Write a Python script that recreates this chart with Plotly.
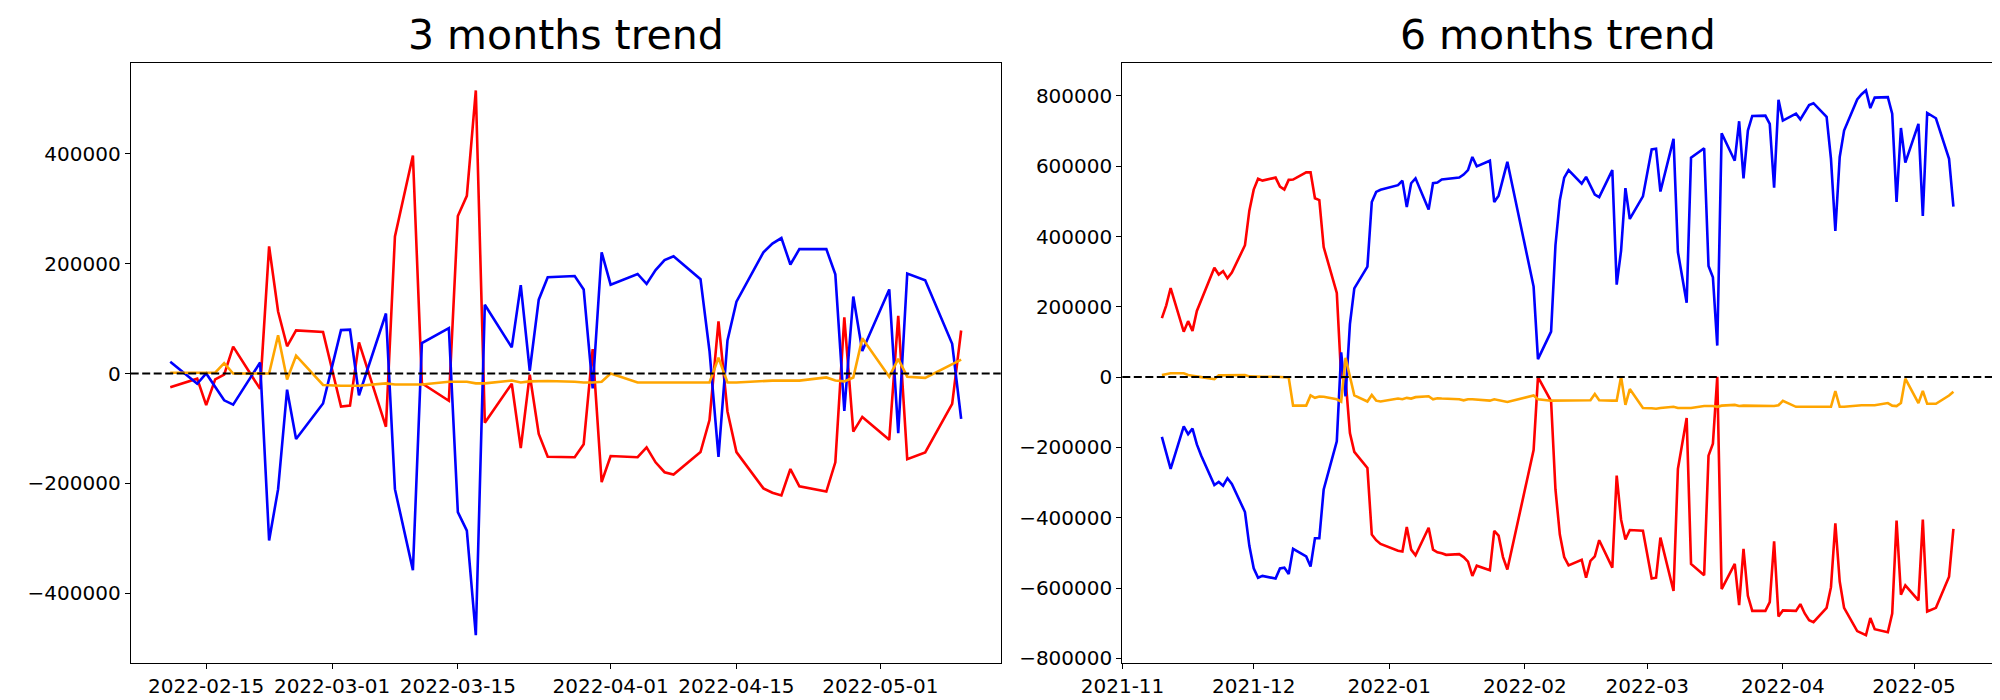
import plotly.graph_objects as go

# ---------------- 3 months data ----------------
left_dates = ["2022-02-11","2022-02-14","2022-02-15","2022-02-16","2022-02-17","2022-02-18",
              "2022-02-21","2022-02-22","2022-02-23","2022-02-24","2022-02-25","2022-02-28",
              "2022-03-02","2022-03-03","2022-03-04","2022-03-07","2022-03-08","2022-03-10",
              "2022-03-11","2022-03-14","2022-03-15","2022-03-16","2022-03-17","2022-03-18",
              "2022-03-21","2022-03-22","2022-03-23","2022-03-24","2022-03-25","2022-03-28",
              "2022-03-29","2022-03-30","2022-03-31","2022-04-01","2022-04-04","2022-04-05",
              "2022-04-06","2022-04-07","2022-04-08","2022-04-11","2022-04-12","2022-04-13",
              "2022-04-14","2022-04-15","2022-04-18","2022-04-19","2022-04-20","2022-04-21",
              "2022-04-22","2022-04-25","2022-04-26","2022-04-27","2022-04-28","2022-04-29",
              "2022-05-02","2022-05-03","2022-05-04","2022-05-06","2022-05-09","2022-05-10"]

left_red = [-25200, -9400, -57600, -10800, -2000, 48900, -28100, 231600, 112900, 49600,
            78400, 75500, -60400, -58300, 56800, -97100, 249600, 397100, -18000, -49600,
            287000, 323700, 515800, -89900, -18700, -136000, -2000, -110000, -151800, -152500,
            -128800, 44600, -197800, -150400, -152500, -134500, -161900, -179900, -184200, -143200,
            -84900, 95000, -69100, -143200, -209300, -217300, -222300, -174100, -205700, -215100,
            -161900, 102200, -105800, -79100, -120900, 105000, -156100, -143900, -55400, 78400]

left_blue = [21600, -18700, 0, -24000, -48900, -56800, 20100, -304300, -210800, -29500,
             -119400, -54700, 79100, 79900, -39600, 109300, -210800, -358300, 55400, 82700,
             -252500, -286300, -477000, 125200, 47500, 161100, 5000, 134500, 175500, 177700,
             153200, -27300, 220900, 161900, 181300, 163300, 188500, 206500, 213700, 171900,
             41000, -151800, 60400, 130900, 220900, 236700, 246800, 198600, 226600, 226600,
             180600, -68300, 140300, 41000, 153200, -108600, 182000, 169800, 54000, -82700]

left_orange = [1400, 1400, 1400, 1400, 18700, 0, 0, 0, 69800, -10800,
               32400, -20900, -22300, -22300, -22300, -18000, -20100, -20100, -20100, -15100,
               -15100, -15100, -18000, -18000, -12900, -16500, -14400, -13700, -13700, -15100,
               -16500, -16500, -15100, 0, -16500, -16500, -16500, -16500, -16500, -16500,
               -16500, 28800, -16500, -16500, -12900, -12900, -12900, -12900, -12900, -7200,
               -12900, -14400, -7200, 64000, -5800, 26600, -5800, -7900, 16500, 25200]

# ---------------- 6 months data ----------------
right_dates = ["2021-11-10","2021-11-11","2021-11-12","2021-11-15","2021-11-16","2021-11-17",
               "2021-11-18","2021-11-19","2021-11-22","2021-11-23","2021-11-24","2021-11-25",
               "2021-11-26","2021-11-29","2021-11-30","2021-12-01","2021-12-02","2021-12-03",
               "2021-12-06","2021-12-07","2021-12-08","2021-12-09","2021-12-10","2021-12-13",
               "2021-12-14","2021-12-15","2021-12-16","2021-12-17","2021-12-20","2021-12-21",
               "2021-12-22","2021-12-23","2021-12-24","2021-12-27","2021-12-28","2021-12-29",
               "2021-12-30","2022-01-03","2022-01-04","2022-01-05","2022-01-06","2022-01-07",
               "2022-01-10","2022-01-11","2022-01-12","2022-01-13","2022-01-14","2022-01-17",
               "2022-01-18","2022-01-19","2022-01-20","2022-01-21","2022-01-24","2022-01-25",
               "2022-01-26","2022-01-27","2022-01-28","2022-02-03","2022-02-04","2022-02-07",
               "2022-02-08","2022-02-09","2022-02-10","2022-02-11","2022-02-14","2022-02-15",
               "2022-02-16","2022-02-17","2022-02-18","2022-02-21","2022-02-22","2022-02-23",
               "2022-02-24","2022-02-25","2022-02-28","2022-03-02","2022-03-03","2022-03-04",
               "2022-03-07","2022-03-08","2022-03-10","2022-03-11","2022-03-14","2022-03-15",
               "2022-03-16","2022-03-17","2022-03-18","2022-03-21","2022-03-22","2022-03-23",
               "2022-03-24","2022-03-25","2022-03-28","2022-03-29","2022-03-30","2022-03-31",
               "2022-04-01","2022-04-04","2022-04-05","2022-04-06","2022-04-07","2022-04-08",
               "2022-04-11","2022-04-12","2022-04-13","2022-04-14","2022-04-15","2022-04-18",
               "2022-04-19","2022-04-20","2022-04-21","2022-04-22","2022-04-25","2022-04-26",
               "2022-04-27","2022-04-28","2022-04-29","2022-05-02","2022-05-03","2022-05-04",
               "2022-05-06","2022-05-09","2022-05-10"]

right_red = [167800, 204200, 253400, 129300, 159300, 131500, 188100, 218000, 311000, 291800,
             301500, 281100, 297200, 375200, 473600, 533400, 564400, 559100, 567600, 542000,
             533400, 561200, 562000, 582600, 582600, 508800, 503500, 369900, 239500, 0,
             -5000, -159300, -212700, -258700, -447900, -464000, -474600, -494000, -496000, -426500,
             -490700, -506700, -428700, -490700, -498200, -501000, -505600, -503500, -512000, -524900,
             -565500, -536600, -549500, -437200, -451100, -512000, -547300, -207400, 0, -68400,
             -319600, -448000, -512000, -535600, -519500, -570800, -522700, -510000, -464000, -542000,
             -280000, -405000, -461800, -435000, -437200, -573000, -570800, -456500, -608300, -260800,
             -116500, -531300, -563400, -223400, -189200, 1000, -603000, -531300, -648900, -488500,
             -622200, -665000, -665000, -640300, -467200, -681000, -663800, -665000, -645700, -672400,
             -691700, -697000, -656400, -597600, -415800, -581500, -656400, -722600, -729000, -734400,
             -685200, -717300, -725900, -672400, -408400, -619000, -592200, -635000, -405200, -667000,
             -656400, -567600, -431900]

right_blue = [-170000, -212700, -260800, -140000, -162500, -146500, -191400, -223500, -306800, -298300,
              -309000, -287600, -303600, -383800, -480000, -544100, -570800, -565500, -573000, -544100,
              -542000, -560200, -488500, -510000, -538800, -458600, -458600, -319600, -182800, 70600,
              -54500, 150700, 252300, 314300, 498200, 527000, 533000, 546000, 559000, 484000,
              551600, 565500, 476800, 551600, 553700, 562300, 563400, 567600, 576200, 589000,
              626400, 599700, 615700, 498200, 516300, 565500, 612500, 257600, 51300, 129300,
              375200, 503500, 567600, 589000, 550500, 569800, 546300, 519500, 512000, 589000,
              263000, 359200, 537700, 450000, 514200, 647800, 649900, 528100, 677700, 356000,
              211700, 624300, 651000, 316400, 284400, 89800, 693800, 615700, 728000, 565500,
              701300, 743000, 744000, 720500, 538800, 789000, 730000, 749400, 733300, 754700,
              774000, 779300, 740800, 621000, 415800, 626400, 701300, 790000, 805000, 815600,
              765400, 795300, 796400, 749400, 498200, 708700, 610400, 720500, 458600, 751500,
              736500, 621000, 485300]

right_orange = [6000, 9000, 11000, 11000, 6000, 4000, 3000, 0, -6000, 5000,
                5000, 5000, 5000, 6000, 2000, 1000, 1000, 1000, 1000, 1000,
                1000, -1000, -81000, -81000, -52000, -59000, -55000, -56000, -63000, -70000,
                55000, 5000, -52000, -69500, -51000, -67000, -69500, -61000, -63000, -59000,
                -61000, -57000, -54500, -63000, -60000, -61000, -61000, -63000, -66000, -63000,
                -63000, -64000, -67000, -63000, -65000, -68000, -70600, -52400, -63000, -67000,
                -67000, -66000, -65000, -65000, -66000, -66000, -66000, -48000, -66000, -67000,
                -67000, 1000, -79000, -34000, -87700, -88700, -90000, -87700, -84500, -87700,
                -87700, -87700, -82300, -82300, -82300, -84500, -81200, -79000, -82300, -81200,
                -81200, -81200, -82300, -82300, -82300, -80000, -67300, -84500, -84500, -84500,
                -84500, -84500, -84500, -84500, -39600, -84500, -84500, -80200, -80200, -80200,
                -80200, -80200, -73800, -81200, -82300, -73800, -4300, -73800, -39600, -75900,
                -75900, -52400, -41700]

left_ticks = ["2022-02-15", "2022-03-01", "2022-03-15", "2022-04-01", "2022-04-15", "2022-05-01"]
right_ticks = ["2021-11-01", "2021-12-01", "2022-01-01", "2022-02-01", "2022-03-01", "2022-04-01", "2022-05-01"]
right_tick_text = ["2021-11", "2021-12", "2022-01", "2022-02", "2022-03", "2022-04", "2022-05"]
left_yticks = [-400000, -200000, 0, 200000, 400000]
right_yticks = [-800000, -600000, -400000, -200000, 0, 200000, 400000, 600000, 800000]

RED, BLUE, ORANGE = "#ff0000", "#0000ff", "#ffa500"
FONT = "DejaVu Sans"


def ylab(v):
    return ("\u2212" + str(abs(v))) if v < 0 else str(v)


def yrange(*series):
    lo = min(min(s) for s in series)
    hi = max(max(s) for s in series)
    m = (hi - lo) * 0.05
    return [lo - m, hi + m]


fig = go.Figure()
for xs, ys, col, ax in [
    (left_dates, left_red, RED, "1"), (left_dates, left_blue, BLUE, "1"), (left_dates, left_orange, ORANGE, "1"),
    (right_dates, right_red, RED, "2"), (right_dates, right_blue, BLUE, "2"), (right_dates, right_orange, ORANGE, "2"),
]:
    fig.add_trace(go.Scatter(x=xs, y=ys, mode="lines", line=dict(color=col, width=2.6),
                             xaxis="x" if ax == "1" else "x2", yaxis="y" if ax == "1" else "y2",
                             showlegend=False, hoverinfo="skip"))

ydom = [1 - 654.5 / 700, 1 - 55.2 / 700]
common_axis = dict(showline=True, mirror=True, linecolor="black", linewidth=1.1,
                   ticks="outside", ticklen=5, tickwidth=1.1, tickcolor="black",
                   showgrid=False, zeroline=False, automargin=False,
                   tickfont=dict(family=FONT, size=20, color="black"))

fig.update_layout(
    width=2000, height=700,
    margin=dict(l=0, r=0, t=0, b=0, autoexpand=False),
    paper_bgcolor="white", plot_bgcolor="white",
    xaxis=dict(domain=[122.7 / 2000, 992.7 / 2000], type="date",
               range=["2022-02-06 14:24", "2022-05-14 09:36"],
               tickvals=left_ticks, ticktext=left_ticks, anchor="y", **common_axis),
    yaxis=dict(domain=ydom, range=yrange(left_red, left_blue, left_orange),
               tickvals=left_yticks, ticktext=[ylab(v) for v in left_yticks], anchor="x", **common_axis),
    xaxis2=dict(domain=[1114.3 / 2000, 1985 / 2000], type="date",
                range=["2021-10-31 22:48", "2022-05-19 01:12"],
                tickvals=right_ticks, ticktext=right_tick_text, anchor="y2", **common_axis),
    yaxis2=dict(domain=ydom, range=yrange(right_red, right_blue, right_orange),
                tickvals=right_yticks, ticktext=[ylab(v) for v in right_yticks], anchor="x2", **common_axis),
    shapes=[
        dict(type="line", xref="x domain", yref="y", x0=0, x1=1, y0=0, y1=0,
             line=dict(color="black", width=2, dash="8px,3.5px"), layer="above"),
        dict(type="line", xref="x2 domain", yref="y2", x0=0, x1=1, y0=0, y1=0,
             line=dict(color="black", width=2, dash="8px,3.5px"), layer="above"),
    ],
    annotations=[
        dict(text="3 months trend", xref="x domain", yref="paper", x=0.5, y=1 - 27 / 700,
             xanchor="center", yanchor="middle", showarrow=False,
             font=dict(family=FONT, size=41, color="black")),
        dict(text="6 months trend", xref="x2 domain", yref="paper", x=0.5, y=1 - 27 / 700,
             xanchor="center", yanchor="middle", showarrow=False,
             font=dict(family=FONT, size=41, color="black")),
    ],
)

fig.write_html("out.html")
